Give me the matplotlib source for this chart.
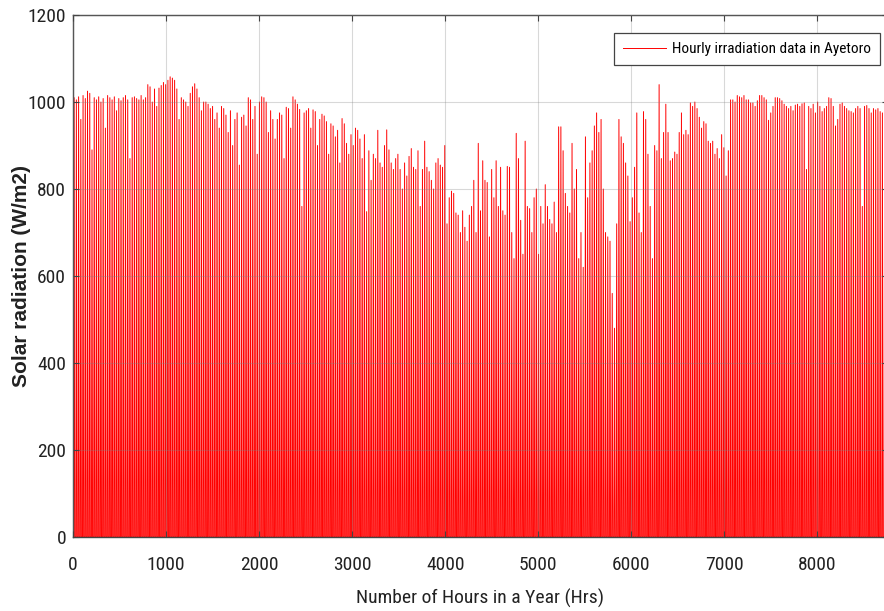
import matplotlib.pyplot as plt
from matplotlib import font_manager
import numpy as np

# peak irradiance of each day (W/m2)
jan = [1010, 1005, 1012, 960, 1015, 1008, 1025, 1020, 890, 1010, 1005, 1012, 1000, 1008, 940, 1015,
       1010, 1005, 1012, 980, 1008, 1003, 1010, 1015, 1005, 870, 1010, 1012, 1008, 1005, 1015]
feb = [1005, 1010, 1040, 1035, 1000, 1030, 990, 1032, 1038, 1045, 1040, 1050, 1058, 1055, 1050, 1030,
       960, 1010, 1005, 1000, 990, 1020, 1035, 1042, 1030, 1010, 980, 1000]
mar = [1000, 995, 985, 990, 960, 975, 940, 990, 985, 970, 930, 980, 900, 960, 975, 855,
       965, 970, 945, 1010, 1005, 960, 990, 880, 1000, 1012, 1010, 1000, 930, 980, 960]
apr = [915, 960, 975, 970, 870, 988, 985, 940, 1012, 1005, 995, 983, 760, 975, 980,
       985, 940, 982, 978, 900, 960, 972, 968, 955, 880, 950, 945, 920, 935, 860]
may = [962, 950, 905, 880, 925, 900, 940, 935, 915, 870, 925, 748, 888, 820, 880, 870,
       935, 860, 850, 900, 936, 890, 860, 845, 870, 880, 845, 800, 860, 830, 875]
jun = [893, 850, 845, 888, 760, 845, 910, 850, 840, 820, 800, 860, 870, 855, 850,
       900, 720, 780, 795, 790, 745, 740, 700, 750, 712, 680, 740, 760, 820, 700]
jul = [905, 750, 865, 820, 815, 690, 845, 780, 865, 760, 850, 750, 740, 852, 850, 700,
       640, 928, 870, 728, 650, 910, 760, 755, 700, 780, 800, 650, 760, 720, 810]
aug = [760, 730, 720, 770, 700, 943, 943, 888, 790, 760, 745, 905, 800, 845, 640, 700,
       620, 920, 780, 860, 888, 945, 975, 930, 960, 800, 700, 690, 680, 560, 480]
sep = [720, 960, 920, 905, 860, 830, 725, 780, 850, 975, 745, 700, 978, 960, 880,
       760, 640, 900, 888, 1040, 870, 930, 995, 930, 865, 870, 885, 880, 930, 975]
oct = [925, 935, 925, 998, 990, 1000, 985, 965, 940, 955, 950, 910, 905, 910, 880, 893,
       870, 925, 895, 830, 888, 1005, 1005, 1000, 1015, 1012, 1010, 1015, 1005, 1005, 998]
nov = [998, 990, 1003, 1015, 1015, 1010, 1005, 958, 975, 990, 1010, 1010, 1008, 1003, 995,
       990, 985, 990, 980, 993, 995, 990, 996, 998, 845, 990, 985, 995, 975, 1000]
dec = [990, 978, 985, 990, 1010, 1008, 990, 945, 960, 995, 998, 990, 985, 980, 978, 975,
       985, 990, 985, 760, 990, 992, 985, 975, 985, 982, 985, 978, 975, 970, 965]

x_ticks = [0, 1000, 2000, 3000, 4000, 5000, 6000, 7000, 8000]
y_ticks = [0, 200, 400, 600, 800, 1000, 1200]

peaks = np.array(jan + feb + mar + apr + may + jun + jul + aug + sep + oct + nov + dec)

# each day: dark at sunrise, peak at noon, dark at sunset
sunrise, noon, sunset = 6, 12, 18
day_start = np.arange(len(peaks)) * 24
hours = np.column_stack([day_start + sunrise, day_start + noon, day_start + sunset]).ravel()
zeros = np.zeros(len(peaks))
irr = np.column_stack([zeros, peaks, zeros]).ravel()

# pick a narrow font if one is installed
names = {f.name for f in font_manager.fontManager.ttflist}
narrow = None
for cand in ['Liberation Sans Narrow', 'Arial Narrow', 'Roboto Condensed', 'Open Sans Condensed']:
    if cand in names:
        narrow = cand
        break
if narrow:
    tick_font = dict(family=[narrow, 'DejaVu Sans'], size=14)
    leg_font = dict(family=[narrow, 'DejaVu Sans'], size=11)
else:
    tick_font = dict(family=['Liberation Sans', 'DejaVu Sans'], size=12.5)
    leg_font = dict(family=['Liberation Sans', 'DejaVu Sans'], size=10)

fig = plt.figure(figsize=(8.84, 6.11), dpi=100)
ax = fig.add_axes([0.0826, 0.1211, 0.9219, 0.8543])

ax.plot(hours, irr, color='red', lw=0.7, label='Hourly irradiation data in Ayetoro')

ax.set_xlim(0, 8760)
ax.set_ylim(0, 1200)
ax.set_xticks(x_ticks)
ax.set_yticks(y_ticks)
ax.grid(True, color='#808080', alpha=0.3, lw=0.8)
ax.set_axisbelow(False)

ax.tick_params(direction='in', length=4, top=True, right=True, color='#444444')
ax.tick_params(axis='x', pad=14)
ax.tick_params(axis='y', pad=5)
for lab in ax.get_xticklabels() + ax.get_yticklabels():
    lab.set_family(tick_font['family'])
    lab.set_fontsize(tick_font['size'])
    lab.set_color('#222222')
for s in ax.spines.values():
    s.set_color('#444444')
    s.set_linewidth(1.0)

ax.set_xlabel('Number of Hours in a Year (Hrs)', family=tick_font['family'],
              fontsize=tick_font['size'], color='#222222')
ax.xaxis.set_label_coords(0.5, -0.10)
ax.set_ylabel('Solar radiation (W/m2)', family=['Liberation Sans', 'DejaVu Sans'], fontsize=15,
              fontweight='bold', color='#222222')
ax.yaxis.set_label_coords(-0.051, 0.5)

leg = ax.legend(loc='upper right', bbox_to_anchor=(0.990, 0.966),
                prop={'family': leg_font['family'], 'size': leg_font['size']},
                fancybox=False, edgecolor='#444444', framealpha=1, handlelength=2.8,
                handletextpad=0.4, borderpad=0.6, borderaxespad=0)
leg.get_frame().set_linewidth(0.9)

fig.savefig('out.png', dpi=100)
